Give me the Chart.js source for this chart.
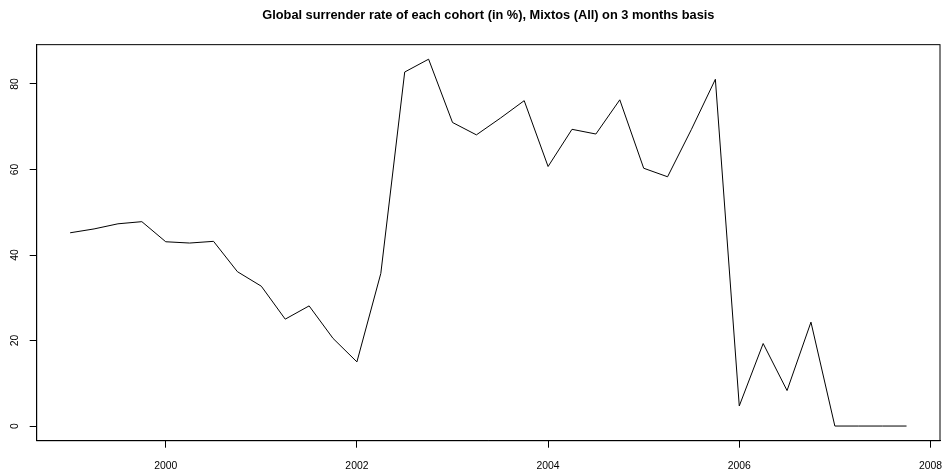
<!DOCTYPE html>
<html>
<head>
<meta charset="utf-8">
<script src="https://cdn.jsdelivr.net/npm/chart.js@4/dist/chart.umd.min.js"></script>
<style>
  html, body { margin: 0; padding: 0; background: #fff; }
  #wrap { width: 943px; height: 473px; }
</style>
</head>
<body>
<div id="wrap"><canvas id="chart" width="943" height="473"></canvas></div>
<script>
// quarter start dates (decimal years)
const quarters = [
  1999.00, 1999.25, 1999.50, 1999.75,
  2000.00, 2000.25, 2000.50, 2000.75,
  2001.00, 2001.25, 2001.50, 2001.75,
  2002.00, 2002.25, 2002.50, 2002.75,
  2003.00, 2003.25, 2003.50, 2003.75,
  2004.00, 2004.25, 2004.50, 2004.75,
  2005.00, 2005.25, 2005.50, 2005.75,
  2006.00, 2006.25, 2006.50, 2006.75,
  2007.00, 2007.25, 2007.50, 2007.75
];
// surrender rate in %
const rates = [
  45.2, 46.1, 47.3, 47.8,
  43.1, 42.8, 43.2, 36.1,
  32.7, 25.0, 28.1, 20.5,
  15.0, 35.7, 82.8, 85.8,
  71.0, 68.1, 72.0, 76.1,
  60.7, 69.4, 68.3, 76.3,
  60.3, 58.3, 69.4, 81.1,
  4.7, 19.3, 8.3, 24.3,
  0, 0, 0, 0
];
const xTicks = [2000, 2002, 2004, 2006, 2008];
const yTicks = [0, 20, 40, 60, 80];
const titleText = 'Global surrender rate of each cohort (in %), Mixtos (All) on 3 months basis';

const points = quarters.map((q, i) => ({ x: q, y: rates[i] }));

// full box around the plot region, like R's box()
const boxPlugin = {
  id: 'box',
  afterDraw(chart) {
    const { ctx, chartArea: a } = chart;
    ctx.save();
    ctx.strokeStyle = '#000';
    ctx.lineWidth = 1;
    ctx.strokeRect(a.left, a.top, a.right - a.left, a.bottom - a.top);
    ctx.restore();
  }
};

const tickFont = { family: 'Liberation Sans, Arial, sans-serif', size: 10.4 };

function noPad(s) {
  s.paddingLeft = 0;
  s.paddingRight = 0;
  s.paddingTop = 0;
  s.paddingBottom = 0;
}

new Chart(document.getElementById('chart'), {
  type: 'line',
  data: {
    datasets: [{
      data: points,
      borderColor: '#000',
      borderWidth: 1,
      pointRadius: 0,
      tension: 0,
      fill: false
    }]
  },
  options: {
    responsive: false,
    animation: false,
    layout: { padding: { left: 0, right: 3, top: 0, bottom: 0 } },
    plugins: {
      legend: { display: false },
      tooltip: { enabled: false },
      title: {
        display: true,
        text: titleText,
        fullSize: false,
        color: '#000',
        font: { family: 'Liberation Sans, Arial, sans-serif', size: 12.8, weight: 'bold' },
        padding: { top: 7.3, bottom: 22 }
      }
    },
    scales: {
      x: {
        type: 'linear',
        min: 1998.65,
        max: 2008.1,
        afterBuildTicks: (s) => { s.ticks = xTicks.map(v => ({ value: v })); },
        afterFit: (s) => { s.height = 32.3; noPad(s); },
        grid: { drawOnChartArea: false, drawTicks: true, tickLength: 7, color: '#000', lineWidth: 1 },
        border: { display: true, color: '#000', width: 1 },
        ticks: {
          color: '#000',
          font: tickFont,
          padding: 12,
          maxRotation: 0,
          callback: (v) => String(v)
        }
      },
      y: {
        type: 'linear',
        min: -3.43,
        max: 89.2,
        afterBuildTicks: (s) => { s.ticks = yTicks.map(v => ({ value: v })); },
        afterFit: (s) => { s.width = 36.7; noPad(s); },
        grid: { drawOnChartArea: false, drawTicks: true, tickLength: 7, color: '#000', lineWidth: 1 },
        border: { display: true, color: '#000', width: 1 },
        ticks: {
          color: '#000',
          font: tickFont,
          padding: 9,
          minRotation: 90,
          maxRotation: 90,
          crossAlign: 'center',
          callback: (v) => String(v)
        }
      }
    }
  },
  plugins: [boxPlugin]
});
</script>
</body>
</html>
